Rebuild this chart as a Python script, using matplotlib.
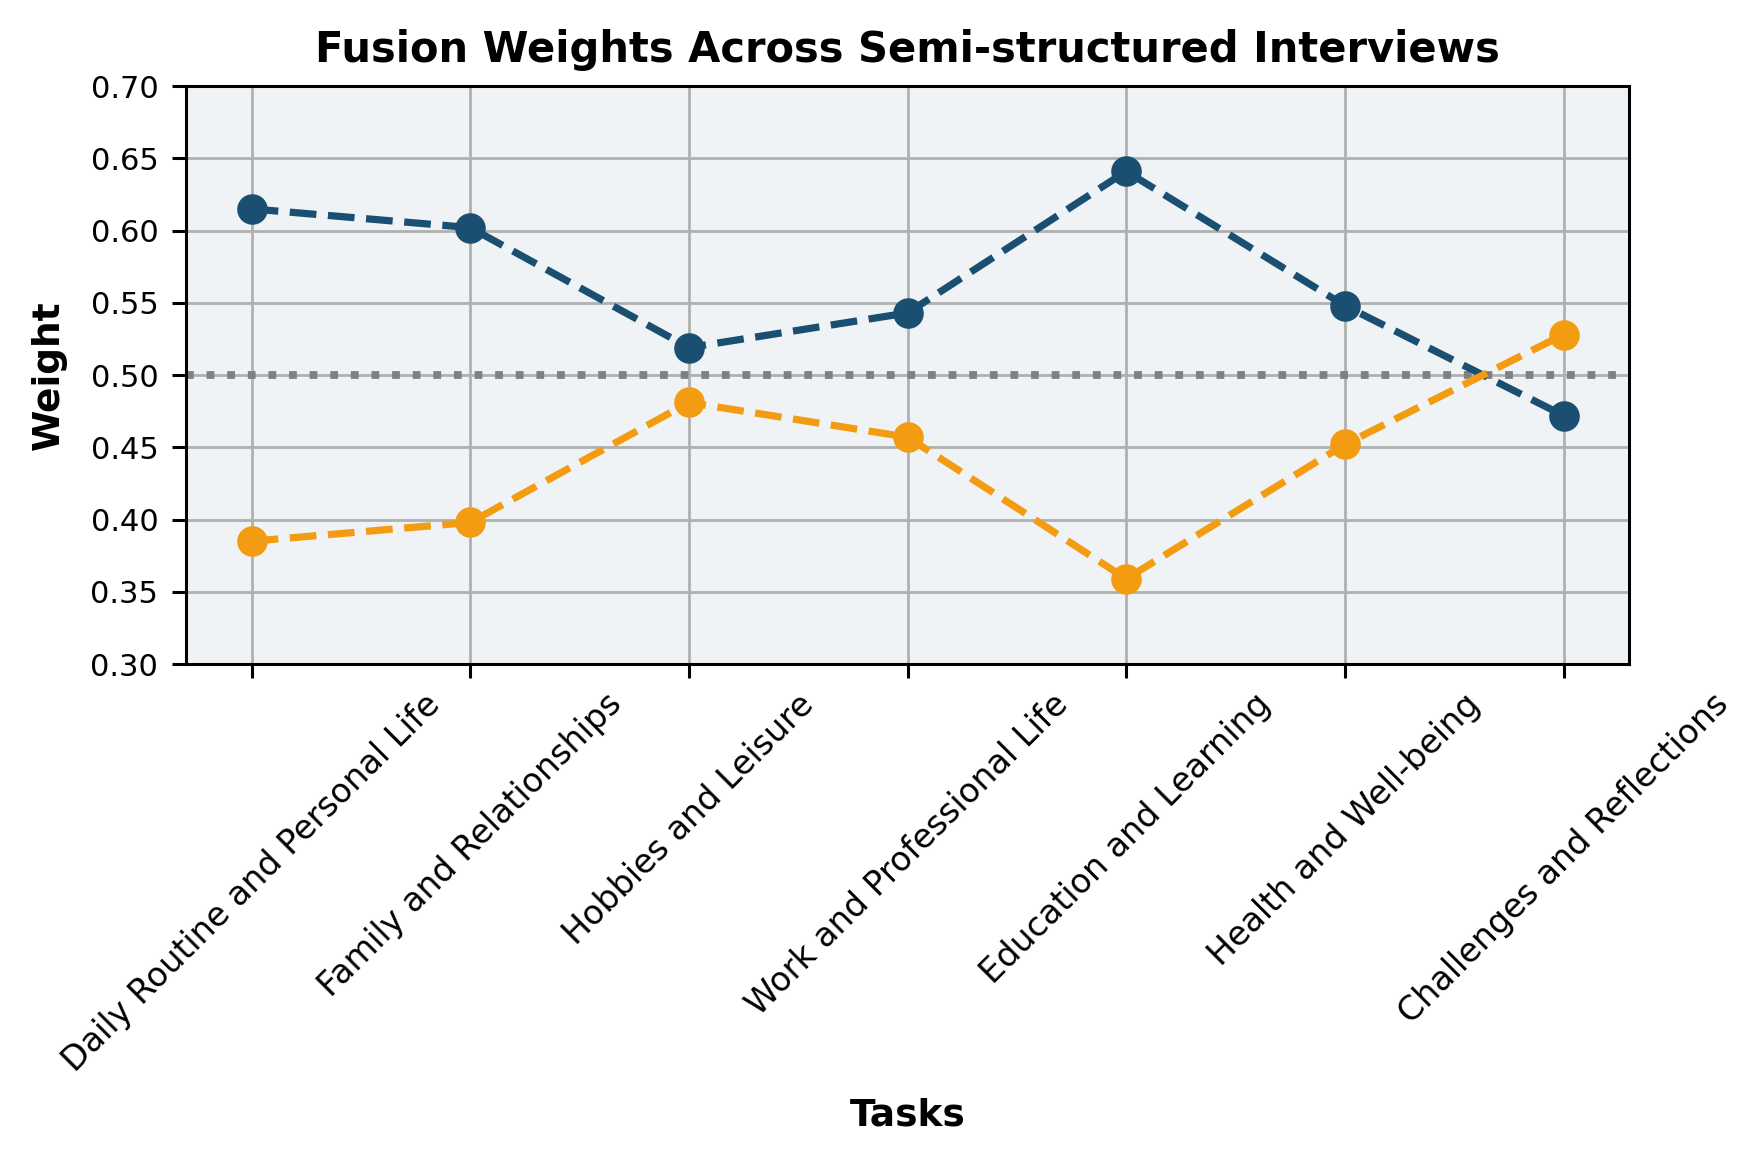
import matplotlib
matplotlib.use('Agg')
import matplotlib.pyplot as plt
import numpy as np

# Görevler (tasks)
tasks = ['Daily Routine and Personal Life', 'Family and Relationships', 'Hobbies and Leisure',
         'Work and Professional Life', 'Education and Learning', 'Health and Well-being',
         'Challenges and Reflections']

# Ağırlıklar
weights_blue = [0.615, 0.602, 0.519, 0.543, 0.641, 0.548, 0.472]
weights_orange = [0.385, 0.398, 0.481, 0.457, 0.359, 0.452, 0.528]

fig = plt.figure(figsize=(8.825, 5.83), dpi=200)
ax = fig.add_axes([0.1054, 0.4305, 0.8176, 0.4957])
ax.set_facecolor('#eff3f6')

x = np.arange(len(tasks))
ax.plot(x, weights_blue, linestyle='--', marker='o', color='#1b4f72', linewidth=2.6, markersize=10, zorder=3)
ax.plot(x, weights_orange, linestyle='--', marker='o', color='#f39c12', linewidth=2.6, markersize=10, zorder=3)
ax.axhline(0.5, color='gray', linestyle=':', linewidth=2.8, zorder=2)

ax.set_ylim(0.3, 0.7)
ax.set_yticks(np.arange(0.30, 0.701, 0.05))
ax.set_yticklabels([f'{v:.2f}' for v in np.arange(0.30, 0.701, 0.05)])
ax.set_xticks(x)
ax.set_xticklabels(tasks, rotation=45, ha='center', fontsize=12)
ax.tick_params(axis='y', labelsize=11, pad=5)
ax.tick_params(length=5, width=1.1)
ax.grid(True, color='#b0b0b0', linewidth=1.0)
ax.set_axisbelow(True)
for s in ax.spines.values():
    s.set_linewidth(1.1)

ax.set_title('Fusion Weights Across Semi-structured Interviews', fontsize=15, fontweight='bold', pad=8.5)
ax.set_xlabel('Tasks', fontsize=13.5, fontweight='bold', labelpad=7)
ax.set_ylabel('Weight', fontsize=13.5, fontweight='bold', labelpad=8.5)

fig.savefig('out.png', dpi=200)
